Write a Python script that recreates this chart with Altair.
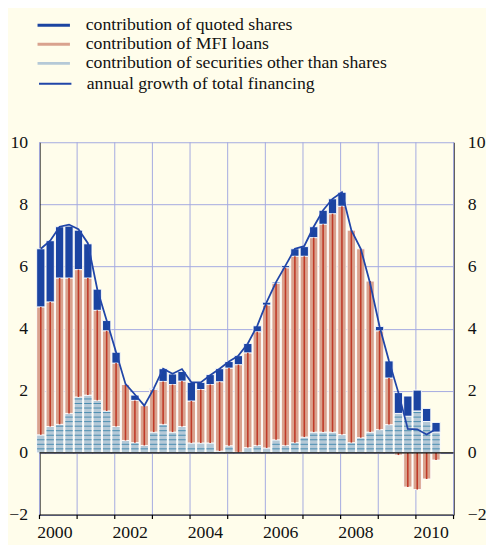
import altair as alt
import pandas as pd

# ---- data (quarterly, 2000Q1 - 2010Q3), percentage points ----
years = list(range(2000, 2011))
quarters = [f"{y}Q{q}" for y in years for q in (1, 2, 3, 4)][:43]
year_bounds = list(range(2000, 2012))
label_years = [2000, 2002, 2004, 2006, 2008, 2010]

sec = [0.58, 0.85, 0.92, 1.27, 1.80, 1.86, 1.69, 1.35, 0.85, 0.40, 0.33, 0.24,
       0.67, 0.92, 0.67, 0.85, 0.32, 0.32, 0.32, 0.06, 0.23, 0.02, 0.17, 0.24,
       0.16, 0.42, 0.24, 0.33, 0.51, 0.67, 0.67, 0.67, 0.59, 0.33, 0.49, 0.67,
       0.75, 0.91, 1.27, 1.18, 1.35, 1.01, 0.67]
mfi = [4.12, 4.01, 4.71, 4.36, 4.10, 3.77, 2.90, 2.58, 2.04, 1.80, 1.36, 1.28,
       1.37, 1.38, 1.53, 1.46, 1.35, 1.72, 1.88, 2.23, 2.50, 2.82, 3.05, 3.66,
       4.60, 5.04, 5.72, 6.00, 5.82, 6.26, 6.69, 7.03, 7.35, 6.84, 6.08, 4.86,
       3.18, 1.50, -0.07, -1.10, -1.18, -0.84, -0.23]
shares = [1.87, 1.97, 1.65, 1.67, 1.27, 1.10, 0.68, 0.33, 0.35, 0.00, 0.17, 0.00,
          0.03, 0.41, 0.34, 0.31, 0.60, 0.23, 0.32, 0.42, 0.21, 0.29, 0.30, 0.19,
          0.09, 0.04, 0.07, 0.24, 0.31, 0.35, 0.45, 0.48, 0.45, 0.00, 0.00, 0.00,
          0.14, 0.55, 0.67, 0.65, 0.67, 0.42, 0.31]
total = [6.57, 6.83, 7.28, 7.35, 7.20, 6.75, 5.27, 4.26, 3.24, 2.22, 1.88, 1.52,
         2.07, 2.71, 2.55, 2.70, 2.27, 2.27, 2.50, 2.71, 2.94, 3.13, 3.52, 4.09,
         4.85, 5.50, 6.03, 6.57, 6.66, 7.28, 7.81, 8.18, 8.39, 7.17, 6.57, 5.45,
         4.07, 2.96, 1.94, 0.77, 0.76, 0.59, 0.77]

S_SH = "contribution of quoted shares"
S_MFI = "contribution of MFI loans"
S_SEC = "contribution of securities other than shares"
S_TOT = "annual growth of total financing"
bar_series = [S_SH, S_MFI, S_SEC]
bar_colors = ["#1b44a1", "#d9a28e", "#b5c9d7"]
LINE_C = "#2146a8"
MFI_STRIPE = "#bf3a28"
SEC_STRIPE = "#4a8db0"
GRID = "#a3a9e0"
BG = "#fffdeb"
FONT = "Liberation Serif"
TXT = "#111111"
YMIN, YMAX = -2, 10
XMIN, XMAX = 2000, 2011


def qpos(label):
    y = int(label[:4])
    q = int(label[-1])
    return y + (q - 1) / 4 + 0.035


rows = []
for lab, s, m, h in zip(quarters, sec, mfi, shares):
    pos, neg = 0.0, 0.0
    for name, v in ((S_SEC, s), (S_MFI, m), (S_SH, h)):
        if v >= 0:
            y0, y1 = pos, pos + v
            pos = y1
        else:
            y0, y1 = neg, neg + v
            neg = y1
        if v != 0:
            rows.append(dict(t=qpos(lab), series=name, y0=y0, y1=y1))
bars = pd.DataFrame(rows)
mfi_df = bars[bars.series == S_MFI]

stripe_rows = []
for lab, s in zip(quarters, sec):
    lv = 0.13
    while lv < s - 0.05:
        stripe_rows.append(dict(t=qpos(lab), y=lv))
        lv += 0.146
stripes = pd.DataFrame(stripe_rows)

line_df = pd.DataFrame(dict(t=[qpos(q) for q in quarters], total=total,
                            series=[S_TOT] * len(quarters)))
frame_df = pd.DataFrame(dict(a=[XMIN], b=[XMAX], z=[0], lo=[YMIN]))
bounds_df = pd.DataFrame(dict(t=year_bounds, lo=[YMIN] * len(year_bounds),
                              hi=[YMAX] * len(year_bounds),
                              tick=[YMIN - 0.13] * len(year_bounds)))
labels_df = pd.DataFrame(dict(t=[y + 0.5 for y in label_years],
                              txt=[str(y) for y in label_years],
                              lo=[YMIN] * len(label_years)))

yscale = alt.Scale(domain=[YMIN, YMAX], nice=False, zero=False, padding=0)
xscale = alt.Scale(domain=[XMIN, XMAX], nice=False, zero=False, padding=0)


def X(field):
    return alt.X(field, scale=xscale, axis=None)


def Y(field, axis=None):
    return alt.Y(field, scale=yscale, axis=axis)


y_left = alt.Axis(values=[-2, 0, 2, 4, 6, 8, 10], orient="left", grid=True,
                  gridColor=GRID, gridWidth=1, domainColor="black", domainWidth=1.2,
                  ticks=False, tickSize=0, labelPadding=12, labelFont=FONT,
                  labelFontSize=18, labelColor=TXT, title=None)
y_right = alt.Axis(values=[-2, 0, 2, 4, 6, 8, 10], orient="right", grid=False,
                   domainColor="black", domainWidth=1.2, ticks=False, tickSize=0,
                   labelPadding=14, labelFont=FONT, labelFontSize=18,
                   labelColor=TXT, title=None)

SYM = 324  # 18 px nominal symbol box
common_legend = dict(orient="none", legendX=5.5, title=None, symbolSize=SYM,
                     labelFont=FONT, labelFontSize=18, labelColor=TXT,
                     rowPadding=1.4, padding=0, labelLimit=400)

vgrid = alt.Chart(bounds_df).mark_rule(color=GRID, strokeWidth=1).encode(
    x=X("t:Q"), y=Y("lo:Q", axis=y_left), y2="hi:Q"
)

bar_layer = alt.Chart(bars).mark_bar(size=8.4, stroke="white", strokeWidth=0.9).encode(
    x=X("t:Q"),
    y=Y("y0:Q"),
    y2="y1:Q",
    color=alt.Color("series:N", scale=alt.Scale(domain=bar_series, range=bar_colors),
                    legend=alt.Legend(legendY=-128, labelOffset=23.5,
                                      symbolType="M-1.83,-0.167H1.83V0.167H-1.83Z",
                                      symbolStrokeWidth=0, **common_legend)),
)

mfi_stripe = alt.Chart(mfi_df).mark_bar(size=1.6, color=MFI_STRIPE).encode(
    x=X("t:Q"), y=Y("y0:Q"), y2="y1:Q"
)

sec_stripe = alt.Chart(stripes).mark_tick(orient="horizontal", size=7.6, thickness=1,
                                          color=SEC_STRIPE, opacity=1).encode(
    x=X("t:Q"), y=Y("y:Q")
)

zero_rule = alt.Chart(frame_df).mark_rule(color="black", strokeWidth=1.2).encode(
    x=X("a:Q"), x2="b:Q", y=Y("z:Q")
)

bottom_rule = alt.Chart(frame_df).mark_rule(color="black", strokeWidth=1.2).encode(
    x=X("a:Q"), x2="b:Q", y=Y("lo:Q")
)

year_ticks = alt.Chart(bounds_df).mark_rule(color="black", strokeWidth=1.2).encode(
    x=X("t:Q"), y=Y("lo:Q"), y2="tick:Q"
)

year_labels = alt.Chart(labels_df).mark_text(
    font=FONT, fontSize=18, color=TXT, baseline="alphabetic", align="center",
    dx=-3.5, dy=23
).encode(x=X("t:Q"), y=Y("lo:Q"), text="txt:N")

line_layer = alt.Chart(line_df).mark_line(strokeWidth=1.8).encode(
    x=X("t:Q"),
    y=Y("total:Q", axis=y_right),
    stroke=alt.Stroke("series:N", scale=alt.Scale(domain=[S_TOT], range=[LINE_C]),
                      legend=alt.Legend(legendY=-70, labelOffset=21.5,
                                        symbolType="M-1.83,0H1.83",
                                        symbolStrokeWidth=2.2, **common_legend)),
)

chart = alt.layer(vgrid, bar_layer, mfi_stripe, sec_stripe, zero_rule, bottom_rule,
                  year_ticks, year_labels, line_layer).resolve_axis(
    y="independent"
).properties(
    width=421, height=379,
    padding={"left": 32, "top": 132, "right": 33, "bottom": 26},
    autosize=alt.AutoSizeParams(type="none"),
    background=BG,
).configure(font=FONT).configure_view(stroke=None)

chart.save("out.html", embed_options={"renderer": "svg", "actions": False})
